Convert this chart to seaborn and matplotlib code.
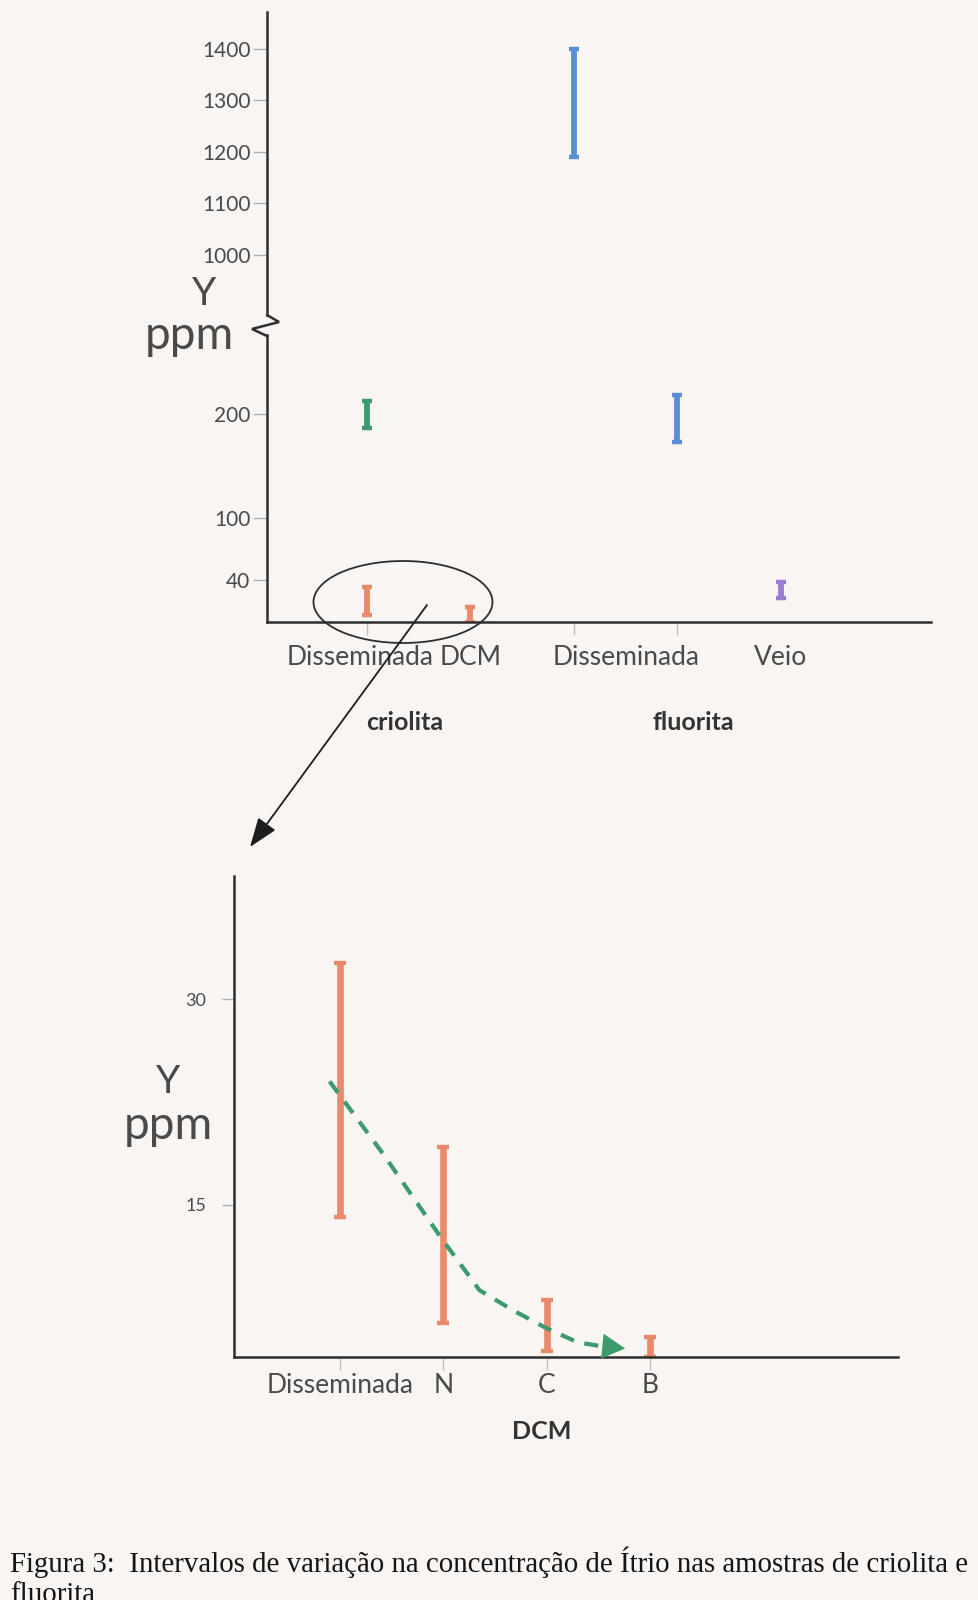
import matplotlib
matplotlib.use("Agg")
import matplotlib.pyplot as plt
import numpy as np
import pandas as pd
import seaborn as sns
from matplotlib.patches import Ellipse

# ---------------- data ----------------
# top chart (Y in ppm, criolita and fluorita)
top_labels = ["Disseminada", "DCM", "Disseminada", "Veio"]
top_label_pos = [-0.07, 1, 2.5, 4]
top_tick_pos = [0, 1, 2, 3, 4]
top_groups = ["criolita", "fluorita"]
top_group_pos = [0.36, 3.15]
top_bar_pos = [0, 0, 1, 2, 3, 4]
top_bar_lo = [7, 187, 0, 1190, 173, 23]
top_bar_hi = [34, 213, 14, 1400, 218, 38]
top_bar_serie = ["laranja", "verde", "laranja", "azul", "azul", "roxo"]
top_ticks_low = [40, 100, 200]
top_ticks_high = [1000, 1100, 1200, 1300, 1400]

# bottom chart (detail of criolita)
dcm_labels = ["Disseminada", "N", "C", "B"]
dcm_pos = [0, 1, 2, 3]
dcm_lo = [14.1, 6.4, 4.4, 3.95]
dcm_hi = [32.6, 19.2, 8.1, 5.4]
dcm_ticks = [15, 30]
dcm_group = "DCM"
dcm_group_pos = 1.95
trend_x = [-0.10, 0.42, 0.98, 1.35, 1.67, 1.98, 2.30, 2.50]
trend_y = [24.0, 18.7, 12.6, 8.8, 7.35, 6.1, 5.0, 4.75]
trend_tip = (2.76, 4.55)

caption = ("Figura 3:  Intervalos de variação na concentração de Ítrio nas amostras de criolita e")
caption2 = "fluorita"

colors = {"laranja": "#e98a6c", "verde": "#3c9a6c", "azul": "#5b8fd5", "roxo": "#9a7cd2"}
BG = "#f8f5f3"
AXC = "#2e2e2e"
TXT = "#4a4a4a"

sns.set_theme(style="white")
plt.rcParams["font.family"] = ["Lato", "DejaVu Sans"]

W, H = 979, 1600
fig = plt.figure(figsize=(W / 100, H / 100), dpi=100)
fig.patch.set_facecolor(BG)


def box(l, t, r, b):
    return [l / W, 1 - b / H, (r - l) / W, (b - t) / H]


def bars_df(pos, lo, hi, serie):
    rows = []
    for i, (p, l, h, s) in enumerate(zip(pos, lo, hi, serie)):
        rows.append(dict(x=p, y=l, bar=i, serie=s))
        rows.append(dict(x=p, y=h, bar=i, serie=s))
    return pd.DataFrame(rows)


def draw_bars(ax, df, lw, ms):
    for s, sub in df.groupby("serie"):
        c = colors[s]
        sns.lineplot(data=sub, x="x", y="y", units="bar", estimator=None,
                     color=c, linewidth=lw, marker="_", markersize=ms,
                     markeredgewidth=3.2, markeredgecolor=c,
                     solid_capstyle="butt", legend=False, ax=ax)
    ax.set_xlabel("")
    ax.set_ylabel("")


# ---------------- top chart (broken axis) ----------------
ax_hi = fig.add_axes(box(267, 12, 931, 315))
ax_lo = fig.add_axes(box(267, 335, 931, 622))
top_df = bars_df(top_bar_pos, top_bar_lo, top_bar_hi, top_bar_serie)
for ax in (ax_hi, ax_lo):
    ax.set_facecolor("none")
    draw_bars(ax, top_df, 4.2, 7)
    ax.set_xlim(-0.966, 5.45)
    for sp in ("top", "right"):
        ax.spines[sp].set_visible(False)
    ax.spines["left"].set_color(AXC)
    ax.spines["left"].set_linewidth(1.8)
    ax.tick_params(axis="y", length=10, width=1, color="#b0b0b0",
                   labelsize=15, labelcolor=TXT, pad=2, left=True)

ax_hi.set_ylim(883.5, 1471.8)
ax_hi.set_yticks(top_ticks_high, [str(v) for v in top_ticks_high])
ax_hi.spines["bottom"].set_visible(False)
ax_hi.set_xticks([])

ax_lo.set_ylim(0, 276)
ax_lo.set_yticks(top_ticks_low, [str(v) for v in top_ticks_low])
ax_lo.spines["bottom"].set_color(AXC)
ax_lo.spines["bottom"].set_linewidth(1.8)
ax_lo.set_xticks(top_label_pos, top_labels)
ax_lo.set_xticks(top_tick_pos, minor=True)
ax_lo.tick_params(axis="x", which="major", length=0, labelsize=19,
                  labelcolor=TXT, pad=16.5)
ax_lo.tick_params(axis="x", which="minor", length=9, width=1,
                  color="#c0c0c0", bottom=True)
for gx, g in zip(top_group_pos, top_groups):
    ax_lo.text(gx, -97, g, ha="center", va="center", fontsize=18,
               fontweight="bold", color="#333333", clip_on=False)

# ---------------- bottom chart ----------------
ax_b = fig.add_axes(box(234, 876, 898, 1357))
ax_b.set_facecolor("none")
b_df = bars_df(dcm_pos, dcm_lo, dcm_hi, ["laranja"] * len(dcm_pos))
draw_bars(ax_b, b_df, 4.8, 8)
sns.lineplot(x=trend_x, y=trend_y, color=colors["verde"], linewidth=3,
             linestyle=(0, (3.4, 2.6)), sort=False, ax=ax_b)
ax_b.annotate("", xy=trend_tip, xytext=(trend_x[-1], trend_y[-1]),
              arrowprops=dict(arrowstyle="-|>,head_length=0.55,head_width=0.3",
                              mutation_scale=30, color=colors["verde"],
                              lw=0, shrinkA=0, shrinkB=0))
ax_b.set_xlim(-1.025, 5.40)
ax_b.set_ylim(3.93, 38.96)
for sp in ("top", "right"):
    ax_b.spines[sp].set_visible(False)
for sp in ("left", "bottom"):
    ax_b.spines[sp].set_color(AXC)
    ax_b.spines[sp].set_linewidth(1.8)
ax_b.set_yticks(dcm_ticks, [str(v) for v in dcm_ticks])
ax_b.tick_params(axis="y", length=9, width=1, color="#b0b0b0",
                 labelsize=13, labelcolor=TXT, pad=11, left=True)
ax_b.set_xticks(dcm_pos, dcm_labels)
ax_b.tick_params(axis="x", length=9, width=1, color="#c0c0c0",
                 labelsize=19, labelcolor=TXT, pad=2.5, bottom=True)
ax_b.text(dcm_group_pos, -1.46, dcm_group, ha="center", va="center",
          fontsize=18, fontweight="bold", color="#333333", clip_on=False)

# ---------------- overlay: labels, break, ellipse, arrow, caption ----------------
ov = fig.add_axes([0, 0, 1, 1])
ov.set_xlim(0, W)
ov.set_ylim(H, 0)
ov.axis("off")
ov.patch.set_alpha(0)

ov.plot([267, 279, 252, 267], [315, 322, 329, 336], color=AXC, lw=1.8,
        solid_joinstyle="miter")
ov.text(204, 294, "Y", ha="center", va="center", fontsize=28, color=TXT)
ov.text(189, 336, "ppm", ha="center", va="center", fontsize=33, color=TXT)
ov.text(168, 1082, "Y", ha="center", va="center", fontsize=28, color=TXT)
ov.text(168, 1126, "ppm", ha="center", va="center", fontsize=33, color=TXT)

ov.add_patch(Ellipse((403, 602), 179, 82, fill=False, ec=AXC, lw=1.3))
ov.annotate("", xy=(250, 847), xytext=(427, 605),
            arrowprops=dict(arrowstyle="-|>,head_length=0.6,head_width=0.22",
                            mutation_scale=30, color="#1e1e1e", lw=1.3,
                            shrinkA=0, shrinkB=0))

ov.text(10, 1562, caption, ha="left", va="center", fontsize=20.8,
        family="Liberation Serif", color="#151515")
ov.text(10, 1595, caption2, ha="left", va="center", fontsize=20.8,
        family="Liberation Serif", color="#151515")

fig.savefig("out.png", dpi=100, facecolor=BG)
